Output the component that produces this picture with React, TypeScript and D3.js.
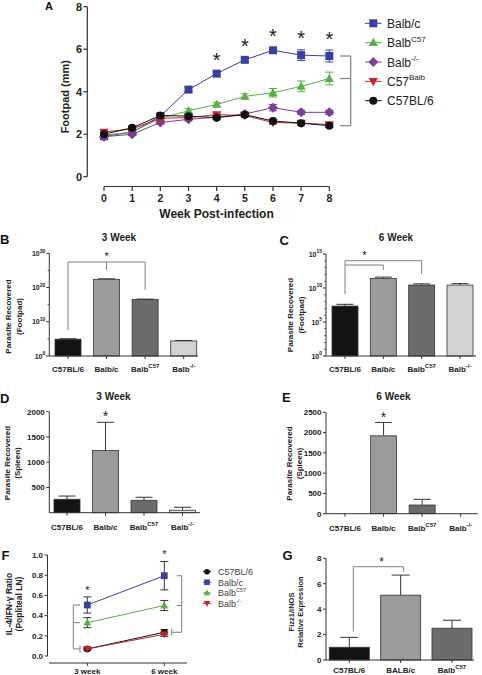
import React from 'react';
import * as d3 from 'd3';

const FONT = '"Liberation Sans", Arial, Helvetica, sans-serif';
const AX = '#333';
const BR = '#808080';

// ---------- Panel A data ----------
const weeks = [0, 1, 2, 3, 4, 5, 6, 7, 8];
const aBalbc = [1.9, 2.1, 2.85, 4.1, 4.85, 5.5, 5.95, 5.72, 5.68];
const aBalbcErr = [0.08, 0.08, 0.1, 0.1, 0.12, 0.1, 0.12, 0.25, 0.28];
const aBalbC57 = [1.95, 2.1, 2.75, 3.1, 3.4, 3.78, 3.95, 4.25, 4.62];
const aBalbC57Err = [0.08, 0.08, 0.1, 0.1, 0.1, 0.12, 0.2, 0.25, 0.3];
const aBalbKO = [1.88, 2.0, 2.55, 2.7, 2.8, 2.95, 3.25, 3.03, 3.03];
const aBalbKOErr = [0.06, 0.06, 0.08, 0.08, 0.08, 0.1, 0.15, 0.1, 0.1];
const aC57Balb = [2.1, 2.25, 2.75, 2.78, 2.92, 2.88, 2.55, 2.52, 2.45];
const aC57BalbErr = [0.06, 0.06, 0.08, 0.08, 0.08, 0.08, 0.08, 0.08, 0.08];
const aC57 = [2.0, 2.3, 2.88, 2.85, 2.78, 2.92, 2.62, 2.52, 2.4];
const aC57Err = [0.06, 0.06, 0.08, 0.08, 0.08, 0.08, 0.08, 0.08, 0.08];
const aSigWeeks = [4, 5, 6, 7, 8];
const aYTicks = [0, 2, 4, 6, 8];

// ---------- Bar panels ----------
const strainLabels = [
  { base: 'C57BL/6', sup: '' },
  { base: 'Balb/c', sup: '' },
  { base: 'Balb', sup: 'C57' },
  { base: 'Balb', sup: '-/-' },
];
const strainCats = ['C57BL/6', 'Balb/c', 'BalbC57', 'Balb-/-'];
const strainFills = ['#141414', '#9b9b9b', '#6b6b6b', '#d2d2d2'];

const bVals = [8e4, 2.5e22, 3.2e16, 2.5e4];
const bErrs = [3e4, 1e22, 1e16, 1e4];
const bYTickExp = [0, 10, 20, 30];

const cVals = [2.2e7, 2.5e11, 2.75e10, 2.7e10];
const cErrs = [1.8e7, 1.5e11, 1.3e10, 1.7e10];
const cYTickExp = [0, 5, 10, 15];

const dVals = [266, 1230, 246, 48];
const dErrs = [64, 560, 60, 60];
const dYTicks = [500, 1000, 1500, 2000];

const eVals = [0, 1920, 214, 0];
const eErrs = [0, 330, 140, 0];
const eYTicks = [0, 500, 1000, 1500, 2000, 2500];

// ---------- Panel F ----------
const fWeeks = ['3 week', '6 week'];
const fC57 = [0.07, 0.235];
const fC57Err = [0.01, 0.025];
const fBalbc = [0.505, 0.795];
const fBalbcErr = [0.08, 0.14];
const fBalbC57 = [0.33, 0.5];
const fBalbC57Err = [0.05, 0.05];
const fBalbKO = [0.07, 0.215];
const fBalbKOErr = [0.01, 0.02];
const fYTicks = [0, 0.2, 0.4, 0.6, 0.8, 1.0];

// ---------- Panel G ----------
const gCats = ['C57BL/6', 'BALB/c', 'BalbC57'];
const gLabels = [
  { base: 'C57BL/6', sup: '' },
  { base: 'BALB/c', sup: '' },
  { base: 'Balb', sup: 'C57' },
];
const gVals = [1.0, 5.1, 2.5];
const gErrs = [0.78, 1.58, 0.63];
const gFills = ['#141414', '#9b9b9b', '#6b6b6b'];
const gYTicks = [0, 2, 4, 6, 8];

const BLUE = '#3b3fa0';
const GREEN = '#5aae48';
const PURPLE = '#7b3d9b';
const RED = '#c6232b';
const BLACK = '#111111';

function Marker({ shape, x, y, color, k = 1 }: any) {
  const t = `translate(${x},${y}) scale(${k})`;
  if (shape === 'circle') return <circle cx={x} cy={y} r={4 * k} fill={color} />;
  let d = '';
  if (shape === 'square') d = 'M-4,-4h8v8h-8z';
  if (shape === 'tri') d = 'M0,-4.8L4.6,3.4L-4.6,3.4Z';
  if (shape === 'triDown') d = 'M0,4.8L4.6,-3.4L-4.6,-3.4Z';
  if (shape === 'diamond') d = 'M0,-5L5,0L0,5L-5,0Z';
  return <path d={d} transform={t} fill={color} />;
}

function SupText({ x, y, base, sup, size, supSize, anchor = 'middle', weight = 'bold', fill = '#222', transform }: any) {
  return (
    <text x={x} y={y} fontSize={size} fontWeight={weight} textAnchor={anchor} fill={fill} transform={transform} fontFamily={FONT}>
      {base}
      {sup ? (
        <tspan dy={-size * 0.45} fontSize={supSize ?? size * 0.65}>
          {sup}
        </tspan>
      ) : null}
    </text>
  );
}

function Star({ x, cy, size, weight = 'normal' }: any) {
  return (
    <text x={x} y={cy + size * 0.58} fontSize={size} fontWeight={weight} textAnchor="middle" fill="#222" fontFamily={FONT}>
      *
    </text>
  );
}

function PanelLetter({ x, y, t, size = 13 }: any) {
  return (
    <text x={x} y={y} fontSize={size} fontWeight="bold" fill="#111" fontFamily={FONT}>
      {t}
    </text>
  );
}

function YLabel2({ cx, cy, l1, l2, gap = 10, size = 8, weight = 'bold' }: any) {
  return (
    <g transform={`translate(${cx},${cy}) rotate(-90)`}>
      <text x={0} y={-gap / 2 + size * 0.36} fontSize={size} fontWeight={weight} textAnchor="middle" fill="#222" fontFamily={FONT}>
        {l1}
      </text>
      <text x={0} y={gap / 2 + size * 0.36} fontSize={size} fontWeight={weight} textAnchor="middle" fill="#222" fontFamily={FONT}>
        {l2}
      </text>
    </g>
  );
}

function Bars({ cats, xs, ys, vals, errs, fills, barW, y0, capW = 16 }: any) {
  return (
    <g>
      {cats.map((c: string, i: number) => {
        const v = vals[i];
        if (!v) return null;
        const cx = xs(c);
        const top = ys(v);
        const et = ys(v + errs[i]);
        return (
          <g key={c}>
            <line x1={cx} x2={cx} y1={top} y2={et} stroke={AX} strokeWidth={1} />
            <line x1={cx - capW / 2} x2={cx + capW / 2} y1={et} y2={et} stroke={AX} strokeWidth={1} />
            <rect x={cx - barW / 2} y={top} width={barW} height={y0 - top} fill={fills[i]} stroke="#333" strokeWidth={0.8} />
          </g>
        );
      })}
    </g>
  );
}

function XAxisCat({ x0, x1, y, cats, xs, labels, labelY, size = 8 }: any) {
  return (
    <g>
      <line x1={x0} x2={x1} y1={y} y2={y} stroke={AX} strokeWidth={1} />
      {cats.map((c: string, i: number) => (
        <g key={c}>
          <line x1={xs(c)} x2={xs(c)} y1={y} y2={y + 3} stroke={AX} strokeWidth={1} />
          <SupText x={xs(c)} y={labelY} base={labels[i].base} sup={labels[i].sup} size={size} supSize={6} />
        </g>
      ))}
    </g>
  );
}

function YAxisLin({ x, ys, ticks, fmt, y0, y1, size = 8 }: any) {
  return (
    <g>
      <line x1={x} x2={x} y1={y0} y2={y1} stroke={AX} strokeWidth={1} />
      {ticks.map((t: number) => (
        <g key={t}>
          <line x1={x - 3} x2={x} y1={ys(t)} y2={ys(t)} stroke={AX} strokeWidth={1} />
          <text x={x - 4.5} y={ys(t) + size * 0.36} fontSize={size} fontWeight="bold" textAnchor="end" fill="#222" fontFamily={FONT}>
            {fmt(t)}
          </text>
        </g>
      ))}
    </g>
  );
}

function YAxisLog({ x, ys, exps, minorExps, y0, y1 }: any) {
  return (
    <g>
      <line x1={x} x2={x} y1={y0} y2={y1} stroke={AX} strokeWidth={1} />
      {minorExps.map((e: number) => (
        <line key={'m' + e} x1={x - 1.8} x2={x} y1={ys(Math.pow(10, e))} y2={ys(Math.pow(10, e))} stroke={AX} strokeWidth={0.8} />
      ))}
      {exps.map((e: number) => (
        <g key={e}>
          <line x1={x - 3} x2={x} y1={ys(Math.pow(10, e))} y2={ys(Math.pow(10, e))} stroke={AX} strokeWidth={1} />
          <SupText x={x - 4} y={ys(Math.pow(10, e)) + 2.5} base="10" sup={String(e)} size={7} supSize={5} anchor="end" />
        </g>
      ))}
    </g>
  );
}

function PanelA() {
  const xA = d3.scaleLinear().domain([0, 8]).range([104, 329.3]);
  const yA = d3.scaleLinear().domain([0, 8]).range([176.7, 6.7]);
  const series = [
    { base: 'Balb/c', sup: '', vals: aBalbc, errs: aBalbcErr, color: BLUE, shape: 'square' },
    { base: 'Balb', sup: 'C57', vals: aBalbC57, errs: aBalbC57Err, color: GREEN, shape: 'tri' },
    { base: 'Balb', sup: '-/-', vals: aBalbKO, errs: aBalbKOErr, color: PURPLE, shape: 'diamond' },
    { base: 'C57', sup: 'Balb', vals: aC57Balb, errs: aC57BalbErr, color: RED, shape: 'triDown' },
    { base: 'C57BL/6', sup: '', vals: aC57, errs: aC57Err, color: BLACK, shape: 'circle' },
  ];
  const line = d3
    .line<number>()
    .x((_, i) => xA(weeks[i]))
    .y((d) => yA(d));
  const legendY = d3.scalePoint<number>().domain([0, 1, 2, 3, 4]).range([23.3, 100.7]);
  const bx = 350.7;
  const brVals = [aBalbc[8], aBalbC57[8], aC57[8]];
  return (
    <g>
      <PanelLetter x={45} y={10} t="A" size={11} />
      {/* y axis */}
      <line x1={87.3} x2={87.3} y1={yA(8)} y2={yA(0)} stroke={AX} strokeWidth={1.2} />
      {aYTicks.map((t) => (
        <g key={t}>
          <line x1={83.3} x2={87.3} y1={yA(t)} y2={yA(t)} stroke={AX} strokeWidth={1.2} />
          <text x={82} y={yA(t) + 4} fontSize={11} fontWeight="bold" textAnchor="end" fill="#222" fontFamily={FONT}>
            {t}
          </text>
        </g>
      ))}
      {/* x axis */}
      <line x1={xA(0)} x2={xA(8)} y1={186.5} y2={186.5} stroke={AX} strokeWidth={1.2} />
      {weeks.map((w) => (
        <g key={w}>
          <line x1={xA(w)} x2={xA(w)} y1={186.5} y2={191} stroke={AX} strokeWidth={1.2} />
          <text x={xA(w)} y={202} fontSize={10.5} fontWeight="bold" textAnchor="middle" fill="#222" fontFamily={FONT}>
            {w}
          </text>
        </g>
      ))}
      <text x={216.5} y={218} fontSize={12} fontWeight="bold" textAnchor="middle" fill="#222" fontFamily={FONT}>
        Week Post-infection
      </text>
      <g transform={`translate(69,${yA(4) + 5}) rotate(-90)`}>
        <text x={0} y={0} fontSize={11} fontWeight="bold" textAnchor="middle" fill="#222" fontFamily={FONT}>
          Footpad (mm)
        </text>
      </g>
      {/* series */}
      {series.map((s, si) => (
        <g key={si}>
          <path d={line(s.vals) || ''} fill="none" stroke={s.color} strokeWidth={1} />
          {s.vals.map((v, i) => (
            <g key={i}>
              <line x1={xA(weeks[i])} x2={xA(weeks[i])} y1={yA(v - s.errs[i])} y2={yA(v + s.errs[i])} stroke={s.color} strokeWidth={1} />
              <line x1={xA(weeks[i]) - 4} x2={xA(weeks[i]) + 4} y1={yA(v + s.errs[i])} y2={yA(v + s.errs[i])} stroke={s.color} strokeWidth={1} />
              <line x1={xA(weeks[i]) - 4} x2={xA(weeks[i]) + 4} y1={yA(v - s.errs[i])} y2={yA(v - s.errs[i])} stroke={s.color} strokeWidth={1} />
              <Marker shape={s.shape} x={xA(weeks[i])} y={yA(v)} color={s.color} />
            </g>
          ))}
        </g>
      ))}
      {/* asterisks */}
      {aSigWeeks.map((w) => {
        const v = aBalbc[w] + aBalbcErr[w];
        return <Star key={w} x={xA(w)} cy={Math.min(yA(v) - 16, yA(aBalbc[w]) - 17)} size={20} />;
      })}
      {/* bracket */}
      <line x1={bx} x2={bx} y1={yA(brVals[0])} y2={yA(brVals[2])} stroke={BR} strokeWidth={1.2} />
      {brVals.map((v, i) => (
        <line key={i} x1={bx - 10.7} x2={bx} y1={yA(v)} y2={yA(v)} stroke={BR} strokeWidth={1.2} />
      ))}
      {/* legend */}
      {series.map((s, i) => (
        <g key={'lg' + i}>
          <line x1={365} x2={381.7} y1={legendY(i)} y2={legendY(i)} stroke={s.color} strokeWidth={1} />
          <Marker shape={s.shape} x={373.3} y={legendY(i)} color={s.color} />
          <SupText x={387} y={legendY(i) + 4.5} base={s.base} sup={s.sup} size={12} supSize={8} anchor="start" weight="normal" />
        </g>
      ))}
    </g>
  );
}

function PanelB() {
  const xs = d3.scalePoint<string>().domain(strainCats).range([68, 183.7]);
  const ys = d3.scaleLog().domain([1, 1e30]).range([356, 253.3]);
  const yBr = 262;
  return (
    <g>
      <PanelLetter x={0} y={243.5} t="B" />
      <text x={119} y={240.5} fontSize={10} fontWeight="bold" textAnchor="middle" fill="#222" fontFamily={FONT}>
        3 Week
      </text>
      <YLabel2 cx={13.5} cy={316.5} l1="Parasite Recovered" l2="(Footpad)" gap={11} />
      <YAxisLog x={49.3} ys={ys} exps={bYTickExp} minorExps={[5, 15, 25]} y0={ys(1e30)} y1={ys(1)} />
      <Bars cats={strainCats} xs={xs} ys={ys} vals={bVals} errs={bErrs} fills={strainFills} barW={26} y0={ys(1)} capW={17} />
      <XAxisCat x0={49.3} x1={198} y={356} cats={strainCats} xs={xs} labels={strainLabels} labelY={372} />
      <path
        d={`M${xs('C57BL/6')},330V${yBr}H${xs('BalbC57')}V290M${xs('Balb/c')},${yBr}V270`}
        fill="none"
        stroke={BR}
        strokeWidth={1}
      />
      <Star x={xs('Balb/c')} cy={254} size={11} />
    </g>
  );
}

function PanelC() {
  const xs = d3.scalePoint<string>().domain(strainCats).range([345, 460]);
  const ys = d3.scaleLog().domain([1, 1e15]).range([356, 254]);
  const minor = d3.range(1, 15).filter((e) => e % 5 !== 0);
  return (
    <g>
      <PanelLetter x={279.5} y={245} t="C" />
      <text x={396} y={240.5} fontSize={10} fontWeight="bold" textAnchor="middle" fill="#222" fontFamily={FONT}>
        6 Week
      </text>
      <YLabel2 cx={295.5} cy={315} l1="Parasite Recovered" l2="(Footpad)" gap={11} />
      <YAxisLog x={326} ys={ys} exps={cYTickExp} minorExps={minor} y0={ys(1e15)} y1={ys(1)} />
      <Bars cats={strainCats} xs={xs} ys={ys} vals={cVals} errs={cErrs} fills={strainFills} barW={26} y0={ys(1)} capW={17} />
      <XAxisCat x0={326} x1={476} y={356} cats={strainCats} xs={xs} labels={strainLabels} labelY={372} />
      <path d={`M${xs('C57BL/6')},294V260.7H${xs('BalbC57')}V274`} fill="none" stroke={BR} strokeWidth={1} />
      <path d={`M${xs('C57BL/6')},265H${xs('Balb/c')}V270`} fill="none" stroke={BR} strokeWidth={1} />
      <Star x={364.5} cy={253} size={11} />
    </g>
  );
}

function PanelD() {
  const xs = d3.scalePoint<string>().domain(strainCats).range([67, 182.5]);
  const ys = d3.scaleLinear().domain([0, 2000]).range([512.7, 411.7]);
  return (
    <g>
      <PanelLetter x={0} y={402.5} t="D" />
      <text x={113.5} y={399.5} fontSize={10} fontWeight="bold" textAnchor="middle" fill="#222" fontFamily={FONT}>
        3 Week
      </text>
      <YLabel2 cx={12.5} cy={463} l1="Parasite Recovered" l2="(Spleen)" gap={10} />
      <YAxisLin x={49.3} ys={ys} ticks={dYTicks} fmt={(t: number) => String(t)} y0={ys(2000)} y1={ys(0)} />
      <Bars cats={strainCats} xs={xs} ys={ys} vals={dVals} errs={dErrs} fills={['#141414', '#9b9b9b', '#6b6b6b', '#e6e6e6']} barW={26} y0={ys(0)} capW={17} />
      <XAxisCat x0={49.3} x1={200} y={512.7} cats={strainCats} xs={xs} labels={strainLabels} labelY={529.5} />
      <Star x={xs('Balb/c')} cy={ys(dVals[1] + dErrs[1]) - 9} size={14} />
    </g>
  );
}

function PanelE() {
  const xs = d3.scalePoint<string>().domain(strainCats).range([345, 460.7]);
  const ys = d3.scaleLinear().domain([0, 2500]).range([513.7, 412.3]);
  return (
    <g>
      <PanelLetter x={282} y={401.5} t="E" />
      <text x={393.5} y={400} fontSize={10} fontWeight="bold" textAnchor="middle" fill="#222" fontFamily={FONT}>
        6 Week
      </text>
      <YLabel2 cx={294} cy={463.5} l1="Parasite Recovered" l2="(Spleen)" gap={10} />
      <YAxisLin x={326} ys={ys} ticks={eYTicks} fmt={(t: number) => String(t)} y0={ys(2500)} y1={ys(0)} />
      <Bars cats={strainCats} xs={xs} ys={ys} vals={eVals} errs={eErrs} fills={strainFills} barW={26} y0={ys(0)} capW={17} />
      <XAxisCat x0={326} x1={478} y={513.7} cats={strainCats} xs={xs} labels={strainLabels} labelY={530.5} />
      <Star x={xs('Balb/c')} cy={ys(eVals[1] + eErrs[1]) - 8.5} size={14} />
    </g>
  );
}

function PanelF() {
  const xs = d3.scalePoint<string>().domain(fWeeks).range([87.3, 164.3]);
  const ys = d3.scaleLinear().domain([0, 1]).range([656, 555]);
  const series = [
    { name: 'C57BL/6', base: 'C57BL/6', sup: '', vals: fC57, errs: fC57Err, color: BLACK, shape: 'circle' },
    { name: 'Balb/c', base: 'Balb/c', sup: '', vals: fBalbc, errs: fBalbcErr, color: BLUE, shape: 'square' },
    { name: 'BalbC57', base: 'Balb', sup: 'C57', vals: fBalbC57, errs: fBalbC57Err, color: GREEN, shape: 'tri' },
    { name: 'Balb-/-', base: 'Balb', sup: '-/-', vals: fBalbKO, errs: fBalbKOErr, color: RED, shape: 'triDown' },
  ];
  const legY = d3.scalePoint<number>().domain([0, 1, 2, 3]).range([571.7, 603.3]);
  const x3 = xs('3 week') as number;
  const x6 = xs('6 week') as number;
  const lx = x3 - 14;
  const rx = x6 + 17.4;
  return (
    <g>
      <PanelLetter x={1.5} y={559.5} t="F" />
      <YLabel2 cx={13.5} cy={604} l1="IL-4/IFN-γ Ratio" l2="(Popliteal LN)" gap={10} size={8.5} />
      <YAxisLin x={47.5} ys={ys} ticks={fYTicks} fmt={(t: number) => t.toFixed(1)} y0={ys(1)} y1={ys(0)} />
      <line x1={49} x2={187} y1={663} y2={663} stroke={AX} strokeWidth={1} />
      {fWeeks.map((w) => (
        <g key={w}>
          <line x1={xs(w)} x2={xs(w)} y1={663} y2={666} stroke={AX} strokeWidth={1} />
          <text x={xs(w)} y={673.5} fontSize={8} fontWeight="bold" textAnchor="middle" fill="#222" fontFamily={FONT}>
            {w}
          </text>
        </g>
      ))}
      {series.map((s) => (
        <g key={s.name}>
          <line x1={x3} x2={x6} y1={ys(s.vals[0])} y2={ys(s.vals[1])} stroke={s.color} strokeWidth={1} />
          {s.vals.map((v, i) => {
            const cx = xs(fWeeks[i]) as number;
            return (
              <g key={i}>
                <line x1={cx} x2={cx} y1={ys(v - s.errs[i])} y2={ys(v + s.errs[i])} stroke="#333" strokeWidth={1} />
                <line x1={cx - 4} x2={cx + 4} y1={ys(v + s.errs[i])} y2={ys(v + s.errs[i])} stroke="#333" strokeWidth={1} />
                <line x1={cx - 4} x2={cx + 4} y1={ys(v - s.errs[i])} y2={ys(v - s.errs[i])} stroke="#333" strokeWidth={1} />
                <Marker shape={s.shape} x={cx} y={ys(v)} color={s.color} k={0.85} />
              </g>
            );
          })}
        </g>
      ))}
      <Star x={x3} cy={ys(fBalbc[0] + fBalbcErr[0]) - 9.5} size={11} />
      <Star x={x6} cy={ys(fBalbc[1] + fBalbcErr[1]) - 9.5} size={11} />
      {/* left bracket */}
      <path
        d={`M${lx + 6.7},${ys(fBalbc[0])}H${lx}V${ys(fC57[0])}H${lx + 6.7}M${lx},${ys(fBalbC57[0])}H${lx + 6.7}M${lx + 6.7},${ys(fC57[0]) - 3.5}V${ys(fC57[0]) + 3.5}`}
        fill="none"
        stroke={BR}
        strokeWidth={1}
      />
      {/* right bracket */}
      <path
        d={`M${rx - 5},${ys(fBalbc[1])}H${rx}V${ys(fC57[1])}H${rx - 10}M${rx},${ys(fBalbC57[1])}H${rx - 5}M${rx - 10},${ys(fC57[1]) - 3.5}V${ys(fC57[1]) + 3.5}`}
        fill="none"
        stroke={BR}
        strokeWidth={1}
      />
      {/* legend */}
      {series.map((s, i) => (
        <g key={'l' + s.name}>
          <line x1={203} x2={211} y1={legY(i)} y2={legY(i)} stroke={s.color} strokeWidth={1} />
          <Marker shape={s.shape} x={207} y={legY(i)} color={s.color} k={0.7} />
          <SupText x={218} y={legY(i) + 3.3} base={s.base} sup={s.sup} size={9} supSize={5.5} anchor="start" weight="normal" fill="#444" />
        </g>
      ))}
    </g>
  );
}

function PanelG() {
  const xs = d3.scalePoint<string>().domain(gCats).range([349.3, 452]);
  const ys = d3.scaleLinear().domain([0, 8]).range([660, 558.3]);
  const x1 = xs('C57BL/6') as number;
  const x2 = xs('BALB/c') as number;
  return (
    <g>
      <PanelLetter x={282.5} y={559.5} t="G" />
      <YLabel2 cx={296} cy={612} l1="Fizz1/iNOS" l2="Relative Expression" gap={8.5} size={7.5} />
      <YAxisLin x={326} ys={ys} ticks={gYTicks} fmt={(t: number) => String(t)} y0={ys(8)} y1={ys(0)} />
      <Bars cats={gCats} xs={xs} ys={ys} vals={gVals} errs={gErrs} fills={gFills} barW={40} y0={ys(0)} capW={18} />
      <XAxisCat x0={326} x1={474} y={660} cats={gCats} xs={xs} labels={gLabels} labelY={672.5} />
      <path d={`M${x1 + 4},631.7V566.7H${x2 + 3}V571.7`} fill="none" stroke={BR} strokeWidth={1} />
      <Star x={381.7} cy={559} size={12} />
    </g>
  );
}

export default function App() {
  return (
    <svg width={482} height={675} style={{ position: 'absolute', left: 0, top: 0, background: '#fff' }} fontFamily={FONT}>
      <rect x={0} y={0} width={482} height={675} fill="#fff" />
      <PanelA />
      <PanelB />
      <PanelC />
      <PanelD />
      <PanelE />
      <PanelF />
      <PanelG />
    </svg>
  );
}
